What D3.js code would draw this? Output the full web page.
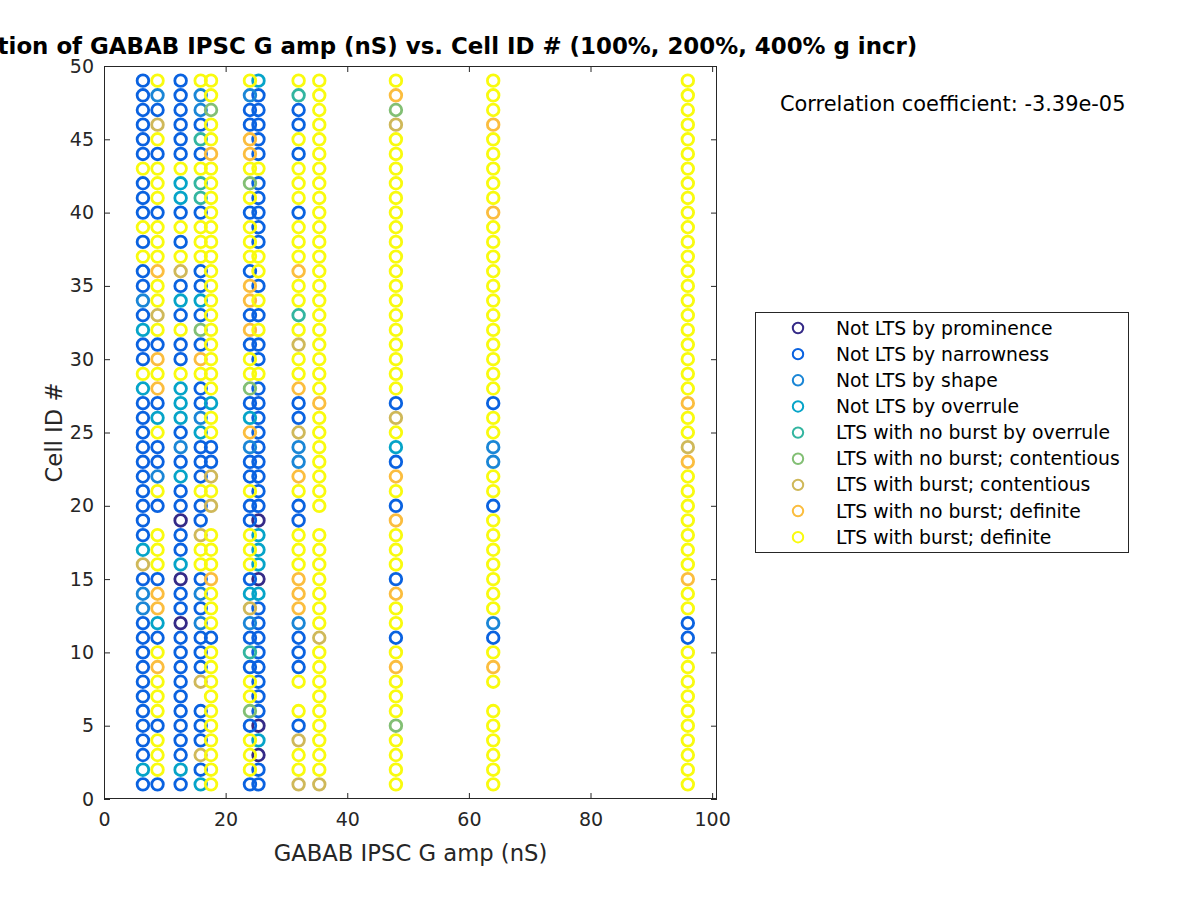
<!DOCTYPE html>
<html><head><meta charset="utf-8">
<script src="https://cdn.jsdelivr.net/npm/d3@7/dist/d3.min.js"></script>
<style>
body{margin:0;background:#fff;}
svg{display:block;font-family:"DejaVu Sans",sans-serif;}
</style>
</head><body>
<svg id="chart" width="1200" height="900"></svg>
<script>
// ---------- DATA ----------
const categories = [
  "Not LTS by prominence",
  "Not LTS by narrowness",
  "Not LTS by shape",
  "Not LTS by overrule",
  "LTS with no burst by overrule",
  "LTS with no burst; contentious",
  "LTS with burst; contentious",
  "LTS with no burst; definite",
  "LTS with burst; definite"
];
const categoryCodes = ["P","N","S","O","T","G","C","F","Y"];
const categoryColors = ["#352a87","#0a62e0","#1a86d6","#06a4c8","#33b5a0","#82bf74","#cfb859","#fbbd3e","#f9fb0e"];

// G amp columns (nS)
const gAmpValues = [6.4, 8.8, 12.6, 15.9, 17.6, 24.0, 25.4, 32.0, 35.4, 48.0, 64.0, 96.0];

// cell IDs, top row first (49 ... 1)
const cellIds = [49,48,47,46,45,44,43,42,41,40,39,38,37,36,35,34,33,32,31,30,29,28,27,26,25,
                 24,23,22,21,20,19,18,17,16,15,14,13,12,11,10,9,8,7,6,5,4,3,2,1];

// classification per cell (same order as cellIds), '-' = no point
const classAt6p4  = "NNNNNNYNNNYNYNNSNONNYONNN" + "NNNNNNNOCNSSNNNNNNNNNNON";
const classAt8p8  = "YSNCYNYYYNYYYFYYCYNFYFNOY" + "NNSYN-YYYNFFONYFYYYNYYYN";
const classAt12p6 = "NNNNNNYOONYNYCNONYNNYOOON" + "SNONNPNNOPNNPNNNNNNNNNON";
const classAt15p9 = "YSSNTNYTTNYYYNNONGNFYNNSO" + "NNNYNNCYYNSNSNNNC-NNNCNO";
const classAt17p6 = "YYGYYFYYYYYYYYYYYYYYYYOYY" + "NNCYC-YYYFYYYNYYYYYYYYYY";
const classAt24p0 = "YSNNFFYGYNYYYNFFNFNYYGNOF" + "SNNYNNYYYNOCSNTNYYGNYYYN";
const classAt25p4 = "ONNNNNYNNNNNYYNYNYNNYNNNN" + "NNNNNPOOOPONNNNNNNNPOPNN";
const classAt32p0 = "YTNNYNYYYNYYYFYYTYCYYFNNC" + "SSFYNNYYYFFFSNNNY-YNCYYC";
const classAt35p4 = "YYYYYYYYYYYYYYYYYYYYYYFYY" + "YYYYY-YYYYYYYCYYYYYYYYYC";
const classAt48p0 = "YFGCYYYYYYYYYYYYYYYYYYNCY" + "ONFYNFYYYNFYYNYFYYYGYYYY";
const classAt64p0 = "YYYFYYYYYFYYYYYYYYYYYYNYY" + "SSYYNYYYYYYYSNYFY-YYYYYY";
const classAt96p0 = "YYYYYYYYYYYYYYYYYYYYYYFYY" + "CFYYYYYYYFYYNNYYYYYYYYYY";

const classColumns = [classAt6p4, classAt8p8, classAt12p6, classAt15p9, classAt17p6, classAt24p0,
                      classAt25p4, classAt32p0, classAt35p4, classAt48p0, classAt64p0, classAt96p0];

const xTicks = [0, 20, 40, 60, 80, 100];
const yTicks = [0, 5, 10, 15, 20, 25, 30, 35, 40, 45, 50];

const titleText = "Correlation of GABAB IPSC G amp (nS) vs. Cell ID # (100%, 200%, 400% g incr)";
const xLabelText = "GABAB IPSC G amp (nS)";
const yLabelText = "Cell ID #";
const corrText = "Correlation coefficient: -3.39e-05";

// ---------- BUILD POINTS ----------
const points = [];
classColumns.forEach((col, ci) => {
  col.split("").forEach((code, ri) => {
    if (code === "-") return;
    points.push({x: gAmpValues[ci], y: cellIds[ri], cat: categoryCodes.indexOf(code)});
  });
});
points.sort((a, b) => a.cat - b.cat);

// ---------- DRAW ----------
const svg = d3.select("#chart");
const axisColor = "#262626";
const L = 104, R = 717, T = 66, B = 799;
const x = d3.scaleLinear().domain([0, 100.8]).range([L, R]);
const y = d3.scaleLinear().domain([0, 50]).range([B, T]);

svg.append("rect").attr("width", 1200).attr("height", 900).attr("fill", "#fff");
svg.append("rect").attr("x", L).attr("y", T).attr("width", R - L).attr("height", B - T).attr("fill", "#fff");

function styleAxis(g) {
  g.select(".domain").remove();
  g.selectAll(".tick line").attr("stroke", axisColor).attr("stroke-width", 1);
  g.selectAll(".tick text").attr("fill", axisColor).style("font-family", '"DejaVu Sans",sans-serif');
}

const tickFont = 19;
svg.append("g").attr("transform", `translate(0,${B})`)
  .call(d3.axisBottom(x).tickValues(xTicks).tickSize(-6).tickPadding(14).tickFormat(d3.format("d")))
  .call(styleAxis).call(g => g.selectAll(".tick text").style("font-size", tickFont + "px"));
svg.append("g").attr("transform", `translate(0,${T})`)
  .call(d3.axisTop(x).tickValues(xTicks).tickSize(-6).tickFormat(""))
  .call(styleAxis);
svg.append("g").attr("transform", `translate(${L},0)`)
  .call(d3.axisLeft(y).tickValues(yTicks).tickSize(-6).tickPadding(10).tickFormat(d3.format("d")))
  .call(styleAxis).call(g => g.selectAll(".tick text").style("font-size", tickFont + "px"));
svg.append("g").attr("transform", `translate(${R},0)`)
  .call(d3.axisRight(y).tickValues(yTicks).tickSize(-6).tickFormat(""))
  .call(styleAxis);

svg.append("rect").attr("x", L + 0.5).attr("y", T + 0.5).attr("width", R - L - 1).attr("height", B - T - 1)
  .attr("fill", "none").attr("stroke", axisColor).attr("stroke-width", 1);

// points
svg.append("g").selectAll("circle").data(points).join("circle")
  .attr("cx", d => x(d.x)).attr("cy", d => y(d.y)).attr("r", 5.8)
  .attr("fill", "none").attr("stroke", d => categoryColors[d.cat]).attr("stroke-width", 2.8);

// labels
svg.append("text").attr("x", (L + R) / 2).attr("y", 861).attr("text-anchor", "middle")
  .attr("fill", axisColor).style("font-size", "22.7px").text(xLabelText);
svg.append("text").attr("transform", `translate(62,${(T + B) / 2}) rotate(-90)`).attr("text-anchor", "middle")
  .attr("fill", axisColor).style("font-size", "22.7px").text(yLabelText);
svg.append("text").attr("x", (L + R) / 2).attr("y", 54).attr("text-anchor", "middle")
  .attr("fill", "#000").style("font-size", "22.9px").style("font-weight", "bold").text(titleText);

svg.append("text").attr("x", 780).attr("y", 111).attr("fill", "#000")
  .style("font-size", "20.9px").text(corrText);

// legend
const lg = svg.append("g");
lg.append("rect").attr("x", 755.5).attr("y", 312.5).attr("width", 373).attr("height", 240)
  .attr("fill", "#fff").attr("stroke", axisColor).attr("stroke-width", 1);
categories.forEach((c, i) => {
  const cy = 328 + i * 26.15;
  lg.append("circle").attr("cx", 798).attr("cy", cy).attr("r", 5.2)
    .attr("fill", "none").attr("stroke", categoryColors[i]).attr("stroke-width", 2);
  lg.append("text").attr("x", 836).attr("y", cy + 6.5).attr("fill", "#000")
    .style("font-size", "18.8px").text(c);
});
</script>
</body></html>
